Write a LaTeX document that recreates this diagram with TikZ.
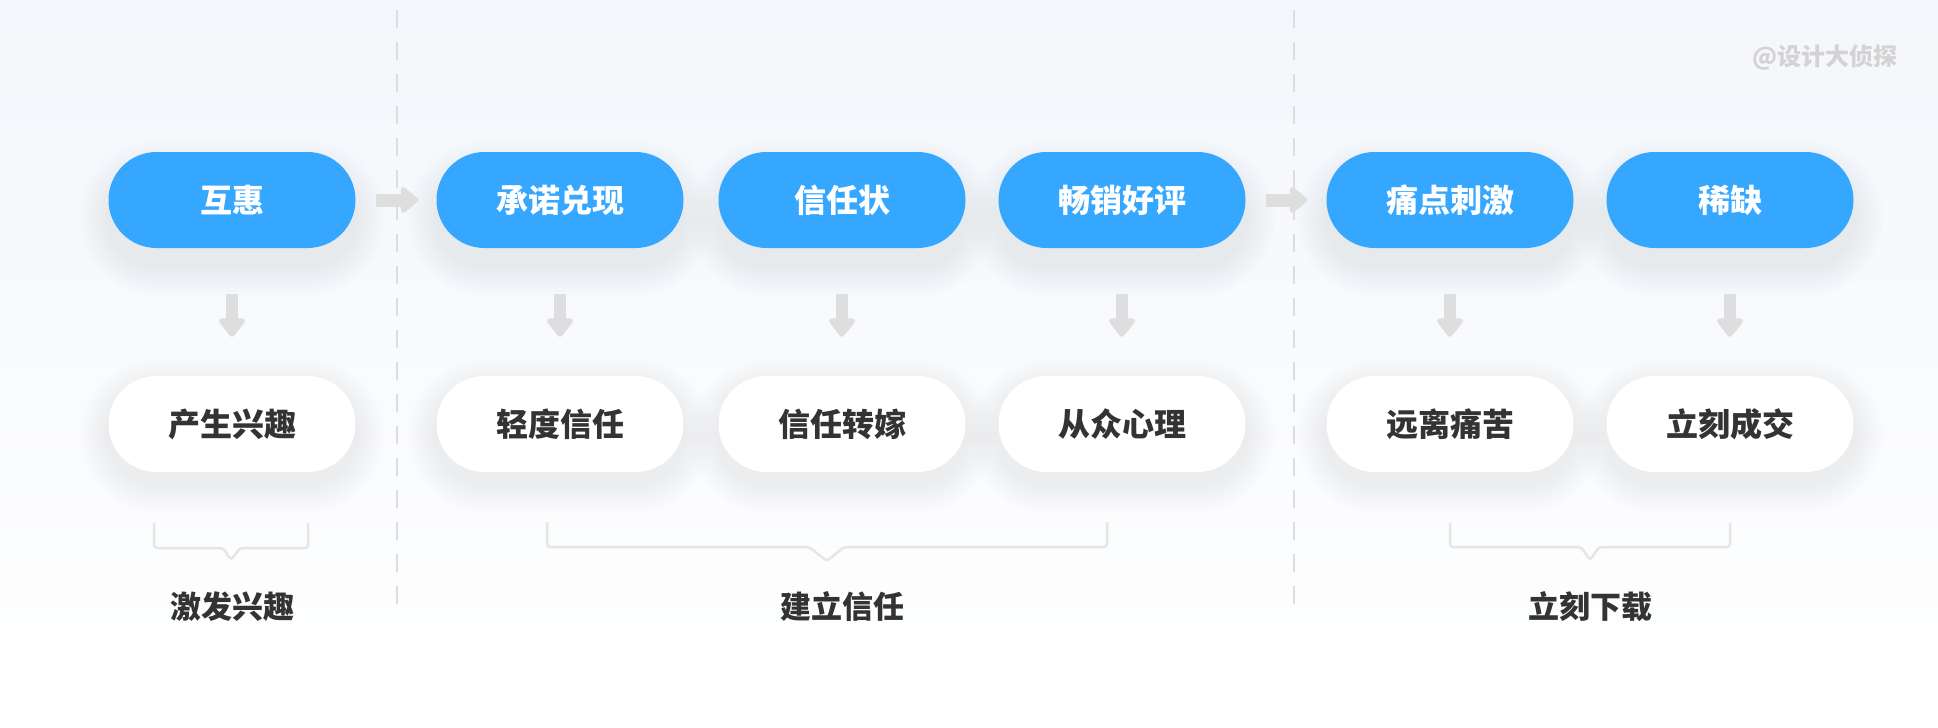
\documentclass[tikz,border=0pt]{standalone}
\usepackage{fontspec}
\setmainfont{Noto Sans CJK SC}
\usetikzlibrary{arrows.meta}
\definecolor{pillblue}{HTML}{36A7FF}
\definecolor{bgtop}{HTML}{F4F6FB}
\definecolor{txt}{HTML}{333333}
\definecolor{arrowgray}{HTML}{DEDEDE}
\definecolor{dashgray}{HTML}{DDDDDD}
\definecolor{brgray}{HTML}{E6E6E6}
\definecolor{wmgray}{HTML}{D3D3D3}
\definecolor{shblue}{HTML}{9FB2D8}
\definecolor{shgray}{HTML}{B4B8C2}
\newcommand\pillshadow[5]{%
  \foreach \e in {2,4,...,30}{%
    \pgfmathsetmacro{\rr}{48+\e}%
    \fill[#3, opacity=#5, rounded corners=\rr pt]
      ({#1-123.5-\e},{#2+#4-48-\e}) rectangle ({#1+123.5+\e},{#2+#4+48+\e});
  }}
\tikzset{
  pillbase/.style={minimum width=247pt, minimum height=96pt, rounded corners=48pt,
    inner sep=0pt, font=\bfseries\fontsize{32}{40}\selectfont},
  bluepill/.style={pillbase, fill=pillblue, text=white},
  whitepill/.style={pillbase, fill=white, text=txt},
  grouplabel/.style={text=txt, inner sep=0pt, font=\bfseries\fontsize{31}{38}\selectfont},
  flowarrow/.style={draw=arrowgray, line width=13pt, -{Triangle[length=19pt,width=30pt,round]}},
  downarrow/.style={draw=arrowgray, line width=12pt, -{Triangle[length=20pt,width=30pt,round]}},
  divider/.style={draw=dashgray, line width=2pt, dash pattern=on 18pt off 14pt},
  bracketline/.style={draw=brgray, line width=2.5pt, rounded corners=3pt},
}
\begin{document}
\begin{tikzpicture}[x=1pt, y=-1pt]
\useasboundingbox (0,0) rectangle (1938,728);
\shade[top color=bgtop, bottom color=white] (0,0) rectangle (1938,728);
% dividers
\draw[divider] (397,10) -- (397,612);
\draw[divider] (1294,10) -- (1294,612);
% watermark
\node[text=wmgray, inner sep=0pt, font=\bfseries\fontsize{24}{28}\selectfont] (wm) at (1825,58) {@设计大侦探};
% shadows
\foreach \cx in {232,560,842,1122,1450,1730}{
  \pillshadow{\cx}{200}{shblue}{18}{0.012}
  \pillshadow{\cx}{424}{shgray}{12}{0.008}
}
% top pills
\node[bluepill] (b1) at (232,200) {互惠};
\node[bluepill] (b2) at (560,200) {承诺兑现};
\node[bluepill] (b3) at (842,200) {信任状};
\node[bluepill] (b4) at (1122,200) {畅销好评};
\node[bluepill] (b5) at (1450,200) {痛点刺激};
\node[bluepill] (b6) at (1730,200) {稀缺};
% bottom pills
\node[whitepill] (w1) at (232,424) {产生兴趣};
\node[whitepill] (w2) at (560,424) {轻度信任};
\node[whitepill] (w3) at (842,424) {信任转嫁};
\node[whitepill] (w4) at (1122,424) {从众心理};
\node[whitepill] (w5) at (1450,424) {远离痛苦};
\node[whitepill] (w6) at (1730,424) {立刻成交};
% horizontal arrows
\draw[flowarrow, shorten <=20pt, shorten >=18pt] (b1.east) -- (b2.west);
\draw[flowarrow, shorten <=20pt, shorten >=19pt] (b4.east) -- (b5.west);
% down arrows
\foreach \i in {1,...,6}{
  \draw[downarrow, shorten <=46pt, shorten >=39pt] (b\i.south) -- (w\i.north);
}
% brackets
\draw[bracketline] (154,523) -- (154,548) -- (223,548) -- (231,560) -- (240,548) -- (308,548) -- (308,523);
\draw[bracketline] (547,522) -- (547,547) -- (809,547) -- (827,561) -- (844,547) -- (1107,547) -- (1107,522);
\draw[bracketline] (1450,523) -- (1450,547) -- (1581,547) -- (1590,560) -- (1599,547) -- (1730,547) -- (1730,523);
% group labels
\node[grouplabel] (g1) at (232,607) {激发兴趣};
\node[grouplabel] (g2) at (842,607) {建立信任};
\node[grouplabel] (g3) at (1590,607) {立刻下载};
\end{tikzpicture}
\end{document}
